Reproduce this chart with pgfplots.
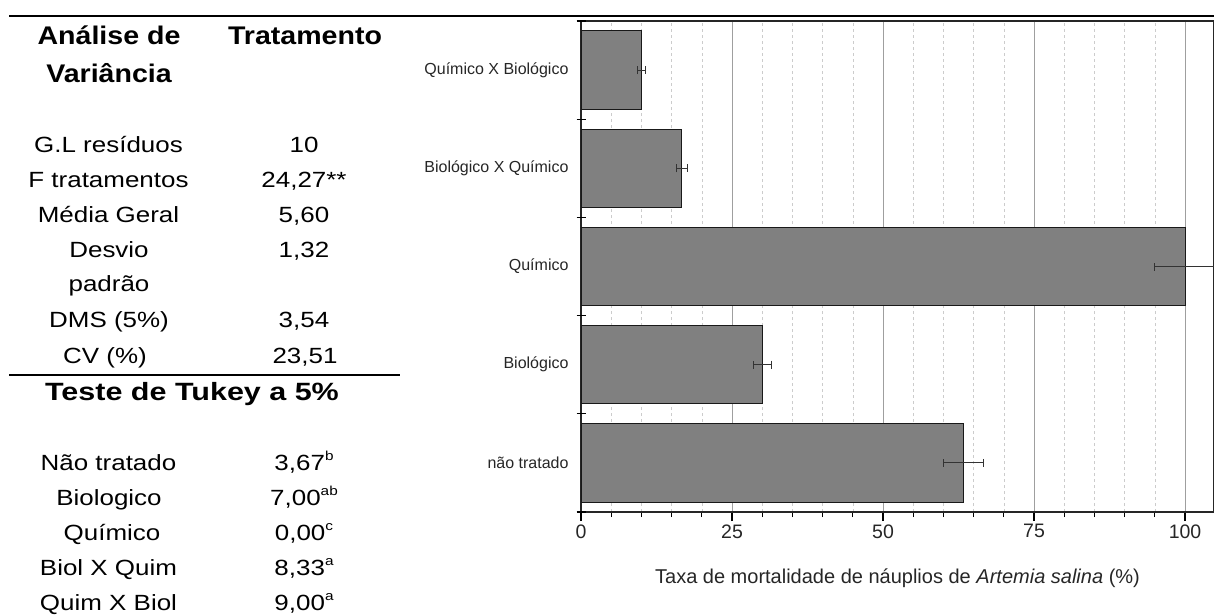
\documentclass[border=0pt]{standalone}
\usepackage{fontspec}
\setmainfont{Liberation Sans}
\newfontfamily\tabfont[FakeStretch=1.18]{Liberation Sans}
\newfontfamily\headfont[FakeStretch=1.12]{Liberation Sans}
\newfontfamily\testfont[FakeStretch=1.22]{Liberation Sans}
\usepackage{pgfplots}
\pgfplotsset{compat=1.18}

\pgfplotstableread{
y x ex
0 63.33 3.3
1 30.00 1.5
2 100.00 5.0
3 16.67 0.9
4 10.00 0.6
}\bardata

\newcommand{\rt}{\tabfont\fontsize{22}{26}\selectfont}
\newcommand{\supl}[1]{\raisebox{0.45em}{\fontsize{13}{15}\selectfont #1}}

\begin{document}
\begin{tikzpicture}
\useasboundingbox (0pt,-615pt) rectangle (1214pt,0pt);
\begin{scope}[x=1pt,y=-1pt]
\draw[line width=1.3pt] (9,16) -- (1214,16);
\draw[line width=1.5pt] (9,375) -- (400,375);
\begin{scope}[every node/.style={anchor=base, inner sep=0pt}]
\node[font=\headfont\bfseries\fontsize{25.5}{28}\selectfont] at (109,45) {Análise de};
\node[font=\headfont\bfseries\fontsize{25.5}{28}\selectfont] at (109,83) {Variância};
\node[font=\headfont\bfseries\fontsize{25.5}{28}\selectfont] at (305,45) {Tratamento};
\node[font=\rt] at (108.5,152) {G.L resíduos};
\node[font=\rt] at (108.5,187) {F tratamentos};
\node[font=\rt] at (108.5,222) {Média Geral};
\node[font=\rt] at (109,257) {Desvio};
\node[font=\rt] at (109,291) {padrão};
\node[font=\rt] at (109,327) {DMS (5\%)};
\node[font=\rt] at (105,363) {CV (\%)};
\node[font=\rt] at (304,152) {10};
\node[font=\rt] at (304,187) {24,27**};
\node[font=\rt] at (304,222) {5,60};
\node[font=\rt] at (304,257) {1,32};
\node[font=\rt] at (304,327) {3,54};
\node[font=\rt] at (305,363) {23,51};
\node[font=\testfont\bfseries\fontsize{25}{28}\selectfont] at (192,400) {Teste de Tukey a 5\%};
\node[font=\rt] at (108.5,470) {Não tratado};
\node[font=\rt] at (109,505) {Biologico};
\node[font=\rt] at (112,540) {Químico};
\node[font=\rt] at (108.5,575) {Biol X Quim};
\node[font=\rt] at (108.5,610) {Quim X Biol};
\node[font=\rt] at (304,470) {3,67\supl{b}};
\node[font=\rt] at (304,505) {7,00\supl{ab}};
\node[font=\rt] at (304,540) {0,00\supl{c}};
\node[font=\rt] at (304,575) {8,33\supl{a}};
\node[font=\rt] at (304,610) {9,00\supl{a}};
\end{scope}
\end{scope}

\begin{axis}[
  at={(581pt,-512pt)}, anchor=south west,
  scale only axis, width=633pt, height=491pt,
  xmin=0, xmax=104.8, ymin=-0.5, ymax=4.5,
  xbar, bar width=0.8,
  clip=false,
  /pgf/number format/assume math mode=true,
  axis line style={line width=1.3pt, black!85},
  xtick={0,25,50,75,100},
  minor xtick={5,10,15,20,30,35,40,45,55,60,65,70,80,85,90,95},
  xtick pos=bottom, ytick pos=left,
  tick align=outside,
  major tick length=9pt, minor tick length=5pt,
  x tick style={black, line width=1.1pt},
  xmajorgrids, xminorgrids,
  major grid style={gray!75, line width=0.7pt, solid},
  minor grid style={gray!40, dashed, line width=0.6pt},
  ytick={0,1,2,3,4},
  yticklabels={não tratado, Biológico, Químico, Biológico X Químico, Químico X Biológico},
  y tick style={draw=none},
  extra y ticks={-0.5,0.5,1.5,2.5,3.5,4.5},
  extra y tick labels={},
  extra y tick style={tick align=center, y tick style={draw=black, line width=1.2pt}},
  xticklabel style={font=\fontsize{19.5}{22}\selectfont, text=black!85},
  yticklabel style={font=\fontsize{16}{19}\selectfont, text=black!85},
]
\addplot[fill=black!50, draw=black!90, line width=1pt,
  error bars/.cd, x dir=both, x explicit,
  error bar style={line width=0.9pt, black!80},
  error mark options={line width=0.9pt, black!80, mark size=4pt, rotate=90}]
  table[x=x, y=y, x error=ex] {\bardata};
\node[font=\fontsize{20}{23}\selectfont, text=black!85, anchor=base, inner sep=0pt]
  at (rel axis cs:0.5,0) [yshift=-71pt] {Taxa de mortalidade de náuplios de \textit{Artemia salina} (\%)};
\end{axis}
\end{tikzpicture}
\end{document}
